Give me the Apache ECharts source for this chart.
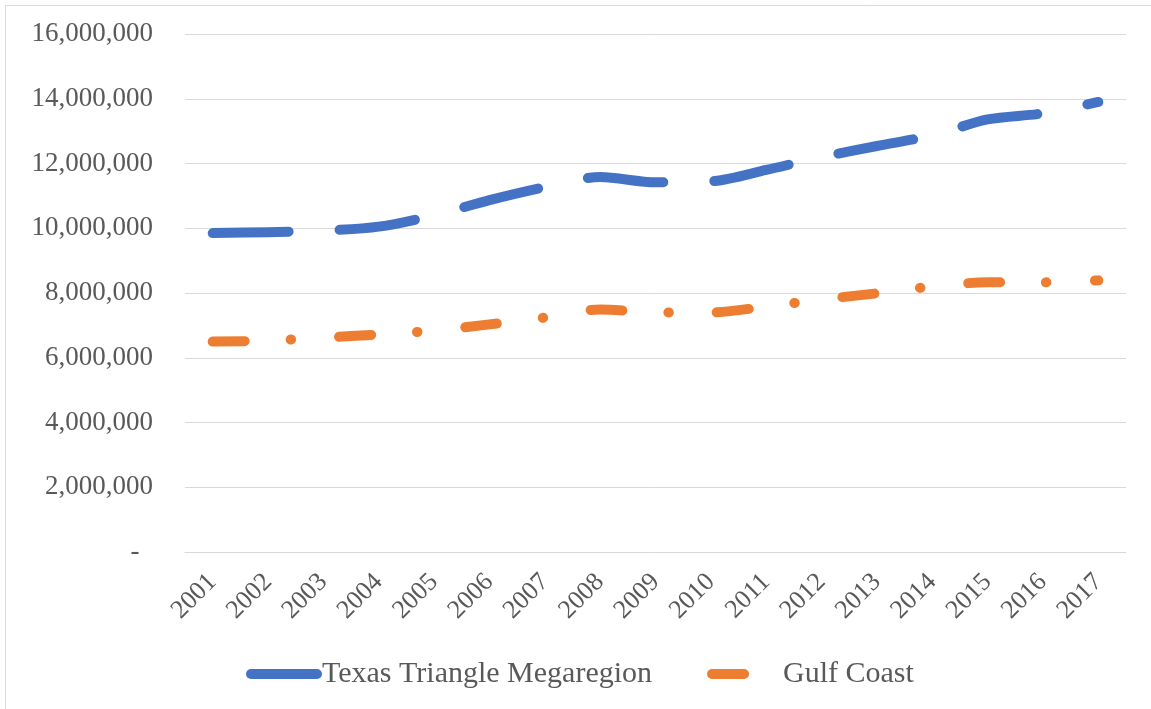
<!DOCTYPE html>
<html>
<head>
<meta charset="utf-8">
<script src="https://cdn.jsdelivr.net/npm/echarts@6/dist/echarts.min.js"></script>
<style>
  html, body { margin: 0; padding: 0; background: #fff; }
  #chart { width: 1151px; height: 709px; }
</style>
</head>
<body>
<div id="chart"></div>
<script>
const years = ['2001', '2002', '2003', '2004', '2005', '2006', '2007', '2008', '2009',
  '2010', '2011', '2012', '2013', '2014', '2015', '2016', '2017']

const texasTriangle = [9850000, 9880000, 9930000, 10050000, 10400000, 10870000, 11270000, 11580000, 11420000,
  11450000, 11800000, 12200000, 12540000, 12870000, 13360000, 13550000, 13900000]

const gulfCoast = [6500000, 6530000, 6620000, 6720000, 6840000, 7030000, 7240000, 7490000, 7400000,
  7400000, 7580000, 7800000, 7990000, 8200000, 8330000, 8330000, 8390000]

const seriesNames = ['Texas Triangle Megaregion', 'Gulf Coast']

const font = '"Liberation Serif", "Times New Roman", serif'
const textColor = '#595959'

const chart = echarts.init(document.getElementById('chart'), null, { renderer: 'canvas' })

chart.setOption({
  animation: false,
  backgroundColor: '#fff',
  graphic: [
    {
      type: 'rect',
      left: 3,
      top: 3,
      shape: { width: 1170, height: 730 },
      style: { fill: 'none', stroke: '#d9d9d9', lineWidth: 1 },
      silent: true,
      z: -1,
    },
  ],
  grid: { left: 185, right: 25, top: 34, bottom: 157 },
  legend: {
    left: 241,
    top: 654,
    itemWidth: 66,
    itemHeight: 14,
    itemGap: 55,
    itemStyle: { opacity: 0 },
    lineStyle: { width: 10, cap: 'round' },
    textStyle: { fontFamily: font, fontSize: 30, color: textColor },
    data: seriesNames,
  },
  xAxis: {
    type: 'category',
    data: years,
    boundaryGap: true,
    axisLine: { lineStyle: { color: '#d9d9d9', width: 1 } },
    axisTick: { show: false },
    axisLabel: {
      rotate: 45,
      margin: 26,
      interval: 0,
      fontFamily: font,
      fontSize: 26,
      color: textColor,
    },
  },
  yAxis: {
    type: 'value',
    min: 0,
    max: 16000000,
    interval: 2000000,
    axisLine: { show: false },
    axisTick: { show: false },
    splitLine: { lineStyle: { color: '#d9d9d9', width: 1 } },
    axisLabel: {
      margin: 32,
      fontFamily: font,
      fontSize: 27,
      color: textColor,
      formatter: (val) => {
        if (val === 0) return '-\u00a0\u00a0'
        return val.toLocaleString('en-US')
      },
    },
  },
  series: [
    {
      name: seriesNames[0],
      type: 'line',
      data: texasTriangle,
      smooth: 0.3,
      symbol: 'none',
      color: '#4472C4',
      lineStyle: { color: '#4472C4', width: 10, type: [76, 51], cap: 'round', join: 'round' },
    },
    {
      name: seriesNames[1],
      type: 'line',
      data: gulfCoast,
      smooth: 0.3,
      symbol: 'none',
      color: '#ED7D31',
      lineStyle: { color: '#ED7D31', width: 10, type: [32, 46, 0.5, 48], cap: 'round', join: 'round' },
    },
  ],
})
</script>
</body>
</html>
